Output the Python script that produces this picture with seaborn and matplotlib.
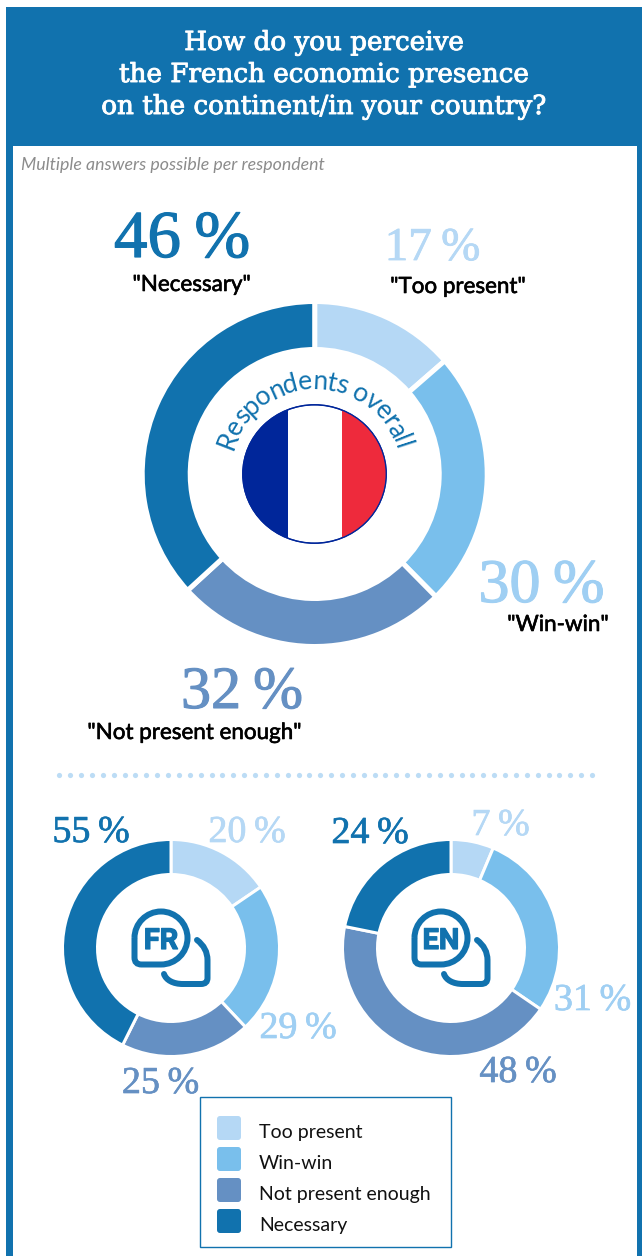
import math
import matplotlib
matplotlib.use("Agg")
import matplotlib.pyplot as plt
import matplotlib.patheffects as pe
import numpy as np
import seaborn as sns
from matplotlib.patches import Rectangle, Ellipse, Patch, PathPatch, FancyBboxPatch
from matplotlib.path import Path
from matplotlib.font_manager import FontProperties
from matplotlib.textpath import text_to_path
from matplotlib.legend_handler import HandlerPatch

# ---- data -------------------------------------------------------------
categories = ["Too present", "Win-win", "Not present enough", "Necessary"]
overall_values = [17, 30, 32, 46]
fr_values = [20, 29, 25, 55]
en_values = [7, 31, 48, 24]
title_lines = ["How do you perceive", "the French economic presence",
               "on the continent/in your country?"]
subtitle = "Multiple answers possible per respondent"
center_label = "Respondents overall"
palette_hex = ["#B5D8F5", "#79BFEC", "#6590C3", "#1172AE"]
label_hex = ["#B5D8F5", "#9FCFF3", "#6590C3", "#1172AE"]

# ---- theme -------------------------------------------------------------
sns.set_theme(style="white")
palette = sns.color_palette(palette_hex)
label_colors = sns.color_palette(label_hex)
NUM_FONT = "Liberation Serif"
SANS = "Lato"
TITLE_FONT = "DejaVu Serif"
BLUE = palette_hex[3]

W, H = 642, 1256
fig = plt.figure(figsize=(W / 100, H / 100), dpi=100, facecolor="white")
bg = fig.add_axes([0, 0, 1, 1])
bg.set_xlim(0, W)
bg.set_ylim(H, 0)
bg.axis("off")
PX = 72 / 100  # points per pixel


def thick(color, px):
    return [pe.withStroke(linewidth=px * PX, foreground=color)]


def donut(values, cx, cy, r_out, r_in, gap):
    R = r_out + gap / 2
    Ri = r_in - gap / 2
    ax = fig.add_axes([(cx - R) / W, 1 - (cy + R) / H, 2 * R / W, 2 * R / H], zorder=2)
    ax.pie(values, colors=palette, startangle=90, counterclock=False, radius=1,
           wedgeprops=dict(width=(R - Ri) / R, edgecolor="white", linewidth=gap * PX))
    ax.set_xlim(-1, 1)
    ax.set_ylim(-1, 1)
    ax.set_aspect("equal")
    ax.patch.set_alpha(0)
    return ax


# ---- frame and header --------------------------------------------------
bg.add_patch(Rectangle((6, 7), 6.5, H - 7, color=BLUE, lw=0))
bg.add_patch(Rectangle((637, 7), 5, H - 7, color=BLUE, lw=0))
bg.add_patch(Rectangle((6, 7), 636, 139, color=BLUE, lw=0))
for line, y in zip(title_lines, [50, 82, 114]):
    bg.text(324.5, y, line, color="white", family=TITLE_FONT,
            fontsize=26.2 * PX, ha="center", va="baseline",
            path_effects=thick("white", 0.9))
bg.text(21, 170, subtitle, color="#8C8C8C", family=SANS, style="italic",
        fontsize=17.8 * PX, ha="left", va="baseline")

# ---- donuts ------------------------------------------------------------
donut(overall_values, 314.7, 474, 170, 127, 5)
donut(fr_values, 171, 948, 107, 75, 3)
donut(en_values, 451, 948, 107, 75, 3)


def pct(value, cat, xc, y, size):
    bg.text(xc, y, f"{value}\u2009%", color=label_colors[cat], family=NUM_FONT,
            fontsize=size * PX, ha="center", va="baseline", zorder=5,
            path_effects=thick(label_colors[cat], size * 0.018))


def quote(cat, xc, y):
    bg.text(xc, y, f'"{categories[cat]}"', color="black", family=SANS,
            fontsize=22.4 * PX, ha="center", va="baseline", zorder=5,
            path_effects=thick("black", 0.6))


pct(overall_values[3], 3, 182, 257, 67)
quote(3, 191.5, 291)
pct(overall_values[0], 0, 432.5, 260, 47)
quote(0, 458, 293)
pct(overall_values[1], 1, 541.5, 602, 62)
quote(1, 558, 631)
pct(overall_values[2], 2, 242, 708, 60)
quote(2, 194.5, 739)

pct(fr_values[3], 3, 91, 842, 38)
pct(fr_values[0], 0, 247, 842, 38)
pct(fr_values[1], 1, 298, 1038, 38)
pct(fr_values[2], 2, 160.5, 1093, 38)
pct(en_values[3], 3, 370, 843, 38)
pct(en_values[0], 0, 500.5, 835, 38)
pct(en_values[1], 1, 592.5, 1010, 38)
pct(en_values[2], 2, 518, 1082, 38)

# ---- flag --------------------------------------------------------------
fcx, fcy, frx, fry = 314.5, 474, 71.7, 69.2
disc = Ellipse((fcx, fcy), 2 * frx, 2 * fry, facecolor="white", edgecolor="#00269A", lw=1.0, zorder=3)
bg.add_patch(disc)
for x0, x1, col in [(fcx - frx, 288, "#00269A"), (342, fcx + frx, "#EE2A3C")]:
    rect = Rectangle((x0, fcy - fry), x1 - x0, 2 * fry, color=col, lw=0, zorder=3)
    bg.add_patch(rect)
    rect.set_clip_path(disc)
bg.add_patch(Ellipse((fcx, fcy), 2 * frx, 2 * fry, fill=False, edgecolor="#00269A", lw=0.9, zorder=3))

# ---- curved centre label -----------------------------------------------
fp = FontProperties(family=SANS, size=26.5 * PX)


def adv(s):
    return text_to_path.get_text_width_height_descent(s, fp, False)[0] / PX


radius = 85
total = adv(center_label)
for i, ch in enumerate(center_label):
    mid = adv(center_label[:i]) + adv(ch) / 2 - total / 2
    th = mid / radius * 0.93
    if ch != " ":
        bg.text(fcx + radius * math.sin(th), fcy - radius * math.cos(th), ch, color=BLUE,
                fontproperties=fp, rotation=-math.degrees(th), rotation_mode="anchor",
                ha="center", va="baseline", zorder=5)

# ---- language icons ----------------------------------------------------
k = 0.5523


def bubble(cx, cy, label):
    x0, y0, a = cx - 10, cy - 10, 26.5
    v = [(x0 - a, y0), (x0 - a, y0 - k * a), (x0 - k * a, y0 - a), (x0, y0 - a),
         (x0 + k * a, y0 - a), (x0 + a, y0 - k * a), (x0 + a, y0),
         (x0 + a, y0 + k * a), (x0 + k * a, y0 + a), (x0, y0 + a),
         (x0 - a + 7, y0 + a), (x0 - a, y0 + a), (x0 - a, y0 + a - 7), (x0 - a, y0)]
    c = [Path.MOVETO] + [Path.CURVE4] * 9 + [Path.LINETO] + [Path.CURVE3] * 2 + [Path.LINETO]
    bg.add_patch(PathPatch(Path(v, c), fill=False, edgecolor=BLUE, lw=6 * PX, zorder=3))
    v2 = [(cx + 26, cy - 8), (cx + 36.5, cy), (cx + 36.5, cy + 12), (cx + 36.5, cy + 30),
          (cx + 36.5, cy + 36), (cx + 30, cy + 36), (cx + 12, cy + 36),
          (cx + 2, cy + 36), (cx - 5, cy + 32), (cx - 7, cy + 26)]
    c2 = [Path.MOVETO, Path.CURVE3, Path.CURVE3, Path.LINETO, Path.CURVE3, Path.CURVE3,
          Path.LINETO, Path.CURVE4, Path.CURVE4, Path.CURVE4]
    bg.add_patch(PathPatch(Path(v2, c2), fill=False, edgecolor=BLUE, lw=6 * PX,
                           capstyle="round", zorder=3))
    bg.text(x0, y0, label, color=BLUE, family="Roboto", weight="bold",
            fontsize=29 * PX, ha="center", va="center_baseline", zorder=5,
            path_effects=thick(BLUE, 1.2))


bubble(171, 948, "FR")
bubble(451, 948, "EN")

# ---- dotted separator (decoration, 50 evenly spaced dots) ---------------
dot_x = np.linspace(59.4, 592, 50)
bg.scatter(dot_x, np.full_like(dot_x, 775), s=(5.2 * PX) ** 2, color="#BCDCF5",
           linewidths=0, zorder=1)


# ---- legend ------------------------------------------------------------
class SwatchHandler(HandlerPatch):
    def create_artists(self, legend, orig_handle, xdescent, ydescent, width, height,
                       fontsize, trans):
        s = 24 * PX
        x = -xdescent + 4 * PX
        y = -ydescent + (height - s) / 2 + 3.5 * PX
        p = FancyBboxPatch((x, y), s, s, boxstyle=f"round,pad=0,rounding_size={3 * PX}",
                           facecolor=orig_handle.get_facecolor(), edgecolor="none",
                           transform=trans)
        return [p]


bg.add_patch(Rectangle((200, 1097), 251, 150, facecolor="white", edgecolor=BLUE, lw=1.0, zorder=4))
handles = [Patch(facecolor=c, label=lab) for c, lab in zip(palette, categories)]
fs_px = 19.5
fs = fs_px * PX
hh = ((31 / fs_px) - 0.245) / 0.65
leg = bg.legend(handles=handles, loc="upper left", bbox_to_anchor=(200, 1103),
                bbox_transform=bg.transData, borderaxespad=0, frameon=False,
                handler_map={Patch: SwatchHandler()},
                handlelength=28 / fs_px, handleheight=hh, handletextpad=18 / fs_px,
                labelspacing=0, borderpad=13 / fs_px,
                prop=dict(family=SANS, size=fs))
for t in leg.get_texts():
    t.set_color("#111111")
leg.set_zorder(6)

fig.savefig("out.png", dpi=100, facecolor="white")
